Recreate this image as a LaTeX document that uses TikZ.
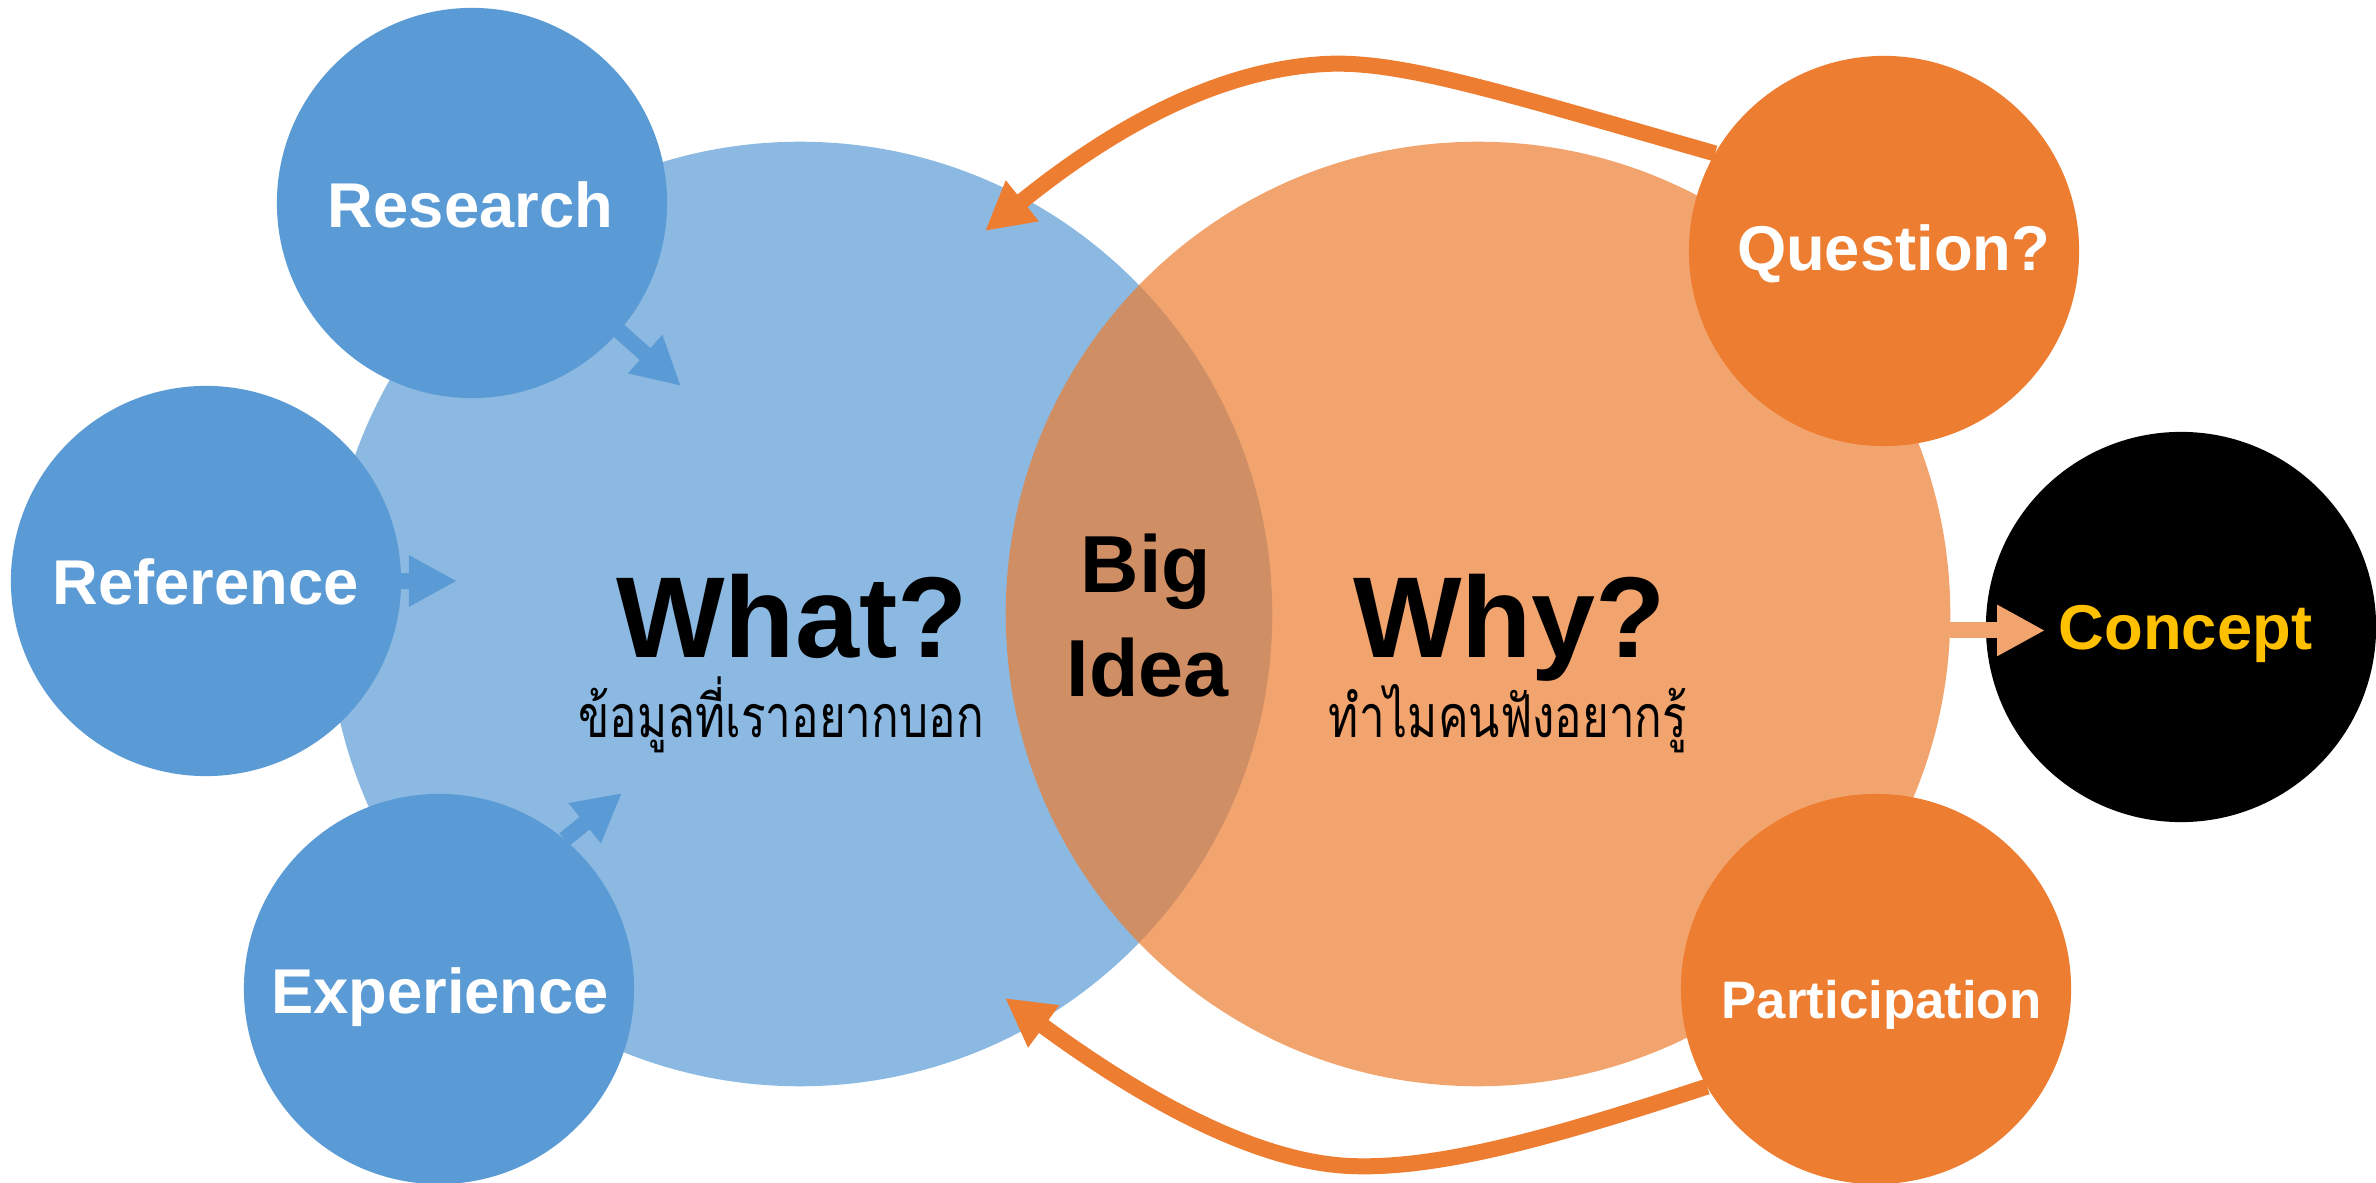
\documentclass[tikz,border=0pt]{standalone}
\usepackage{fontspec}
\setmainfont{Liberation Sans}
\newfontfamily\thaifont[Script=Thai]{Loma}
\usetikzlibrary{arrows.meta}
\definecolor{smallblue}{HTML}{5B9BD5}
\definecolor{bigblue}{HTML}{8CB9E2}
\definecolor{myorange}{HTML}{ED7D31}
\definecolor{lightorange}{HTML}{F2A46F}
\definecolor{gold}{HTML}{FFC000}
\begin{document}
\begin{tikzpicture}[x=0.01cm, y=-0.01cm,
  bigcirc/.style={circle, minimum size=9.44cm, inner sep=0pt, outer sep=0pt},
  smallcirc/.style={circle, minimum size=3.9cm, inner sep=0pt, outer sep=0pt},
  lbltxt/.style={anchor=base, text=white, font=\bfseries\fontsize{18}{20}\selectfont, inner sep=0pt},
  bigtxt/.style={anchor=base, font=\bfseries\fontsize{32.7}{36}\selectfont, inner sep=0pt},
  midtxt/.style={anchor=base, font=\bfseries\fontsize{23}{26}\selectfont, inner sep=0pt},
  thaitxt/.style={anchor=base, font=\thaifont\fontsize{14}{16}\selectfont, inner sep=0pt},
  blockarrow/.style={line width=0.16cm, -{Triangle[length=0.48cm,width=0.48cm]}},
  curvearrow/.style={draw=myorange, line width=0.16cm, -{Triangle[length=0.48cm,width=0.49cm]}},
]
\useasboundingbox (0,0) rectangle (2376,1183);
% big circles
\node[bigcirc, fill=bigblue] (what) at (800,614) {};
\node[bigcirc, fill=myorange, fill opacity=0.7] (why) at (1478,614) {};
% small circles
\node[smallcirc, fill=smallblue] (research) at (472,203) {};
\node[smallcirc, fill=smallblue] (reference) at (206,581) {};
\node[smallcirc, fill=smallblue] (experience) at (439,989) {};
\node[smallcirc, fill=myorange] (question) at (1884,251) {};
\node[smallcirc, fill=myorange] (participation) at (1876,989) {};
\node[smallcirc, fill=black] (concept) at (2181,627) {};
% arrow ends
\coordinate (researchtip) at (681,386);
\coordinate (referencetip) at (457,581);
\coordinate (experiencetip) at (622,793);
\coordinate (concepttip) at (2045,630);
\coordinate (qtip) at (985,231);
\coordinate (ptip) at (1005,998);
% blue arrows
\draw[blockarrow, color=smallblue] (research.-41) -- (researchtip);
\draw[blockarrow, color=smallblue] (reference) -- (referencetip);
\draw[blockarrow, color=smallblue] (experience.50) -- (experiencetip);
% concept arrow
\draw[blockarrow, color=lightorange] (why.-2) -- (why.-2 -| concepttip);
% curved orange arrows
\draw[curvearrow] (question.150) .. controls (1500,92) and (1400,60) .. (1325,64)
  .. controls (1215,70) and (1110,130) .. (qtip);
\draw[curvearrow] (participation.210) .. controls (1560,1135) and (1440,1170) .. (1350,1166)
  .. controls (1250,1162) and (1130,1090) .. (ptip);
% texts
\node[lbltxt] (researchlbl) at (470.5,228) {Research};
\node[lbltxt] (referencelbl) at (205.5,605) {Reference};
\node[lbltxt] (experiencelbl) at (440,1013.5) {Experience};
\node[lbltxt] (questionlbl) at (1893.5,270.6) {Question?};
\node[lbltxt, font=\bfseries\fontsize{15}{17}\selectfont] (participationlbl) at (1881.5,1018) {Participation};
\node[lbltxt, text=gold] (conceptlbl) at (2185.5,650) {Concept};
\node[bigtxt] (whattxt) at (792,658) {What?};
\node[bigtxt] (whytxt) at (1509.5,658) {Why?};
\node[midtxt] (bigtxtnode) at (1146,593) {Big};
\node[midtxt] (ideatxt) at (1147.5,697) {Idea};
\node[thaitxt] (whatthai) at (781,738) {\scalebox{0.93}[1.2]{ข้อมูลที่เราอยากบอก}};
\node[thaitxt] (whythai) at (1508,738) {\scalebox{0.93}[1.2]{ทำไมคนฟังอยากรู้}};
\end{tikzpicture}
\end{document}
